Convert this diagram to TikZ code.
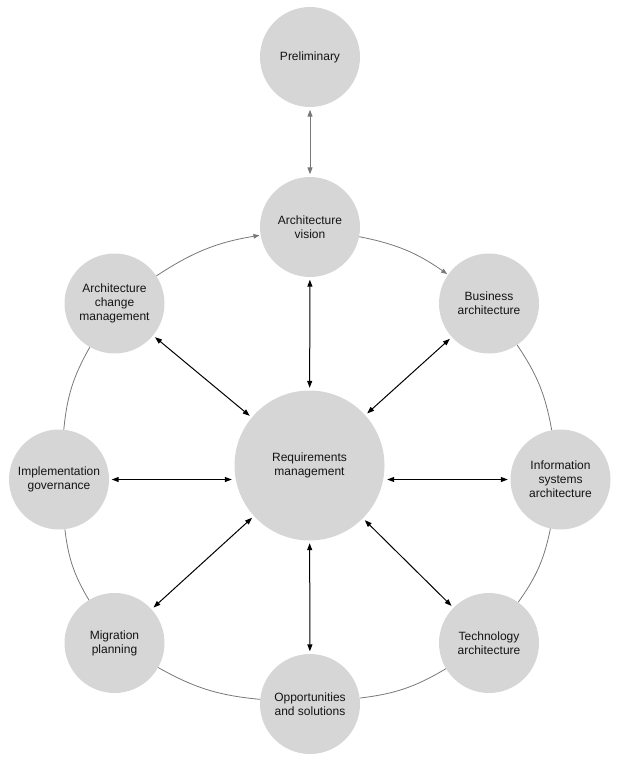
\documentclass[tikz,border=0pt]{standalone}
\usepackage{fontspec}
\setmainfont{Liberation Sans}
\usetikzlibrary{arrows.meta}
\definecolor{nodefill}{RGB}{214,214,214}
\definecolor{ringgray}{RGB}{120,120,120}
\definecolor{txt}{RGB}{20,20,20}
\tikzset{
  phase/.style={circle, fill=nodefill, draw=none, minimum size=100pt, inner sep=0pt,
    align=center, text=txt, font=\fontsize{12}{14}\selectfont},
  hub/.style={phase, minimum size=150pt},
  ring/.style={draw=ringgray, line width=0.8pt, bend left=12},
  ringarrow/.style={ring, -{Triangle[length=6pt,width=4.5pt]}, shorten >=1pt},
  biarrow/.style={draw=black, line width=1pt,
    {Triangle[length=7pt,width=5pt]}-{Triangle[length=7pt,width=5pt]},
    shorten >=2.5pt, shorten <=2.5pt},
  grayarrow/.style={biarrow, draw=ringgray, line width=1pt}
}
\begin{document}
\begin{tikzpicture}[x=1pt, y=-1pt]
\useasboundingbox (0,0) rectangle (621,762);
\node[phase] (pre) at (310,57) {Preliminary};
\node[phase] (av)  at (310,227) {Architecture\\vision};
\node[phase] (ba)  at (489,303.5) {Business\\architecture};
\node[phase] (isa) at (560.5,479.5) {Information\\systems\\architecture};
\node[phase] (ta)  at (489,643) {Technology\\architecture};
\node[phase] (os)  at (310,704) {Opportunities\\and solutions};
\node[phase] (mp)  at (114.5,643) {Migration\\planning};
\node[phase] (ig)  at (59,479.5) {Implementation\\governance};
\node[phase] (acm) at (114.5,303.5) {Architecture\\change\\management};
\node[hub]   (rm)  at (309.5,465.5) {Requirements\\management};

% ring
\draw[ringarrow] (acm) to (av);
\draw[ringarrow] (av) to (ba);
\draw[ring] (ba) to (isa);
\draw[ring] (isa) to (ta);
\draw[ring] (ta) to (os);
\draw[ring] (os) to (mp);
\draw[ring] (mp) to (ig);
\draw[ring] (ig) to (acm);

% preliminary
\draw[grayarrow] (pre) -- (av);

% spokes
\draw[biarrow] (av) -- (rm);
\draw[biarrow] (os) -- (rm);
\draw[biarrow] (ba) -- (rm);
\draw[biarrow] (ta) -- (rm);
\draw[biarrow] (mp) -- (rm);
\draw[biarrow] (acm) -- (rm);
\draw[biarrow] (ig) -- (ig -| rm.west);
\draw[biarrow] (isa) -- (isa -| rm.east);
\end{tikzpicture}
\end{document}
